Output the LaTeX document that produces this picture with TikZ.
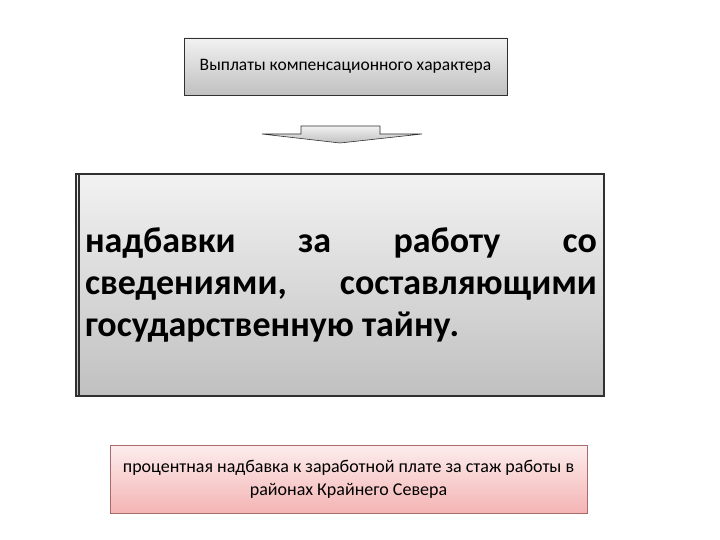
\documentclass[tikz,border=0pt]{standalone}
\usepackage{fontspec}
\setmainfont{Carlito}
\usetikzlibrary{positioning}

\definecolor{boxLine}{HTML}{303030}
\definecolor{grayTop}{HTML}{F2F2F2}
\definecolor{grayBot}{HTML}{C0C0C0}
\definecolor{pinkTop}{HTML}{FDEDED}
\definecolor{pinkBot}{HTML}{F4B4B4}
\definecolor{pinkLine}{HTML}{A86A6A}

\tikzset{
  grayBox/.style={rectangle, draw=boxLine, top color=grayTop, bottom color=grayBot, inner sep=0pt},
  pinkBox/.style={rectangle, draw=pinkLine, top color=pinkTop, bottom color=pinkBot, inner sep=0pt}
}

\begin{document}
\begin{tikzpicture}[x=1pt, y=-1pt]
  \useasboundingbox (0,0) rectangle (720,540);
  \node (boxTop) [grayBox, minimum width=323pt, minimum height=57pt, font=\fontsize{17.5}{21}\selectfont] at (345.5,66.5)
    {Выплаты компенсационного характера};
  %Стрелка
  \path [grayBox, line width=0.6pt] (301,126) -- (380,126) -- (380,134) -- (422,134) -- (340,143) -- (262,134) -- (301,134) -- cycle;
  \node (boxMain) [grayBox, line width=1.2pt, minimum width=528pt, minimum height=222pt] at (340,285) {};
  \draw [line width=1.2pt, boxLine] (79,174) -- (79,396);
  \node (textMain) [text width=512pt, align=justify, inner sep=0pt, font=\fontsize{36}{42}\selectfont\bfseries] at (341,285)
    {надбавки за работу со сведениями, составляющими государственную тайну.};
  \node (boxNorth) [pinkBox, minimum width=477pt, minimum height=68pt, align=center, font=\fontsize{18}{23}\selectfont] at (348.5,479)
    {процентная надбавка к заработной плате за стаж работы в\\ районах Крайнего Севера};
\end{tikzpicture}
\end{document}
